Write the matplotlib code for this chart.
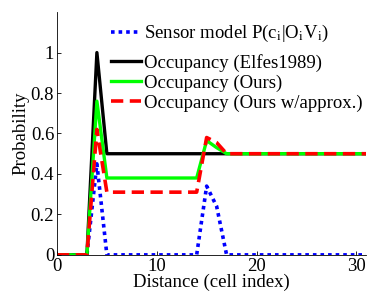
import numpy as np
import matplotlib
matplotlib.use("Agg")
import matplotlib.pyplot as plt

plt.rcParams["font.family"] = ["Liberation Serif", "DejaVu Serif"]
plt.rcParams["mathtext.fontset"] = "stix"

# cell index 0..31
cells = list(range(32))
sensor = [0, 0, 0, 0, 0.45, 0, 0, 0, 0, 0, 0, 0, 0, 0, 0, 0.34, 0.24, 0] + [0] * 14
elfes = [0, 0, 0, 0, 1.0] + [0.5] * 27
ours = [0, 0, 0, 0, 0.76] + [0.38] * 10 + [0.565, 0.53] + [0.5] * 15
approx = [0, 0, 0, 0, 0.62] + [0.31] * 10 + [0.58, 0.555] + [0.5] * 15

labels = [r"Sensor model P(c$_{\rm i}$|O$_{\rm i}$V$_{\rm i}$)",
          "Occupancy (Elfes1989)",
          "Occupancy (Ours)",
          "Occupancy (Ours w/approx.)"]

fig = plt.figure(figsize=(3.7, 2.95), dpi=100)
ax = fig.add_axes([0.154, 0.136, 0.836, 0.823])

l0, = ax.plot(cells, sensor, color="#0000ff", lw=2.6, dashes=(1, 1.1))
l1, = ax.plot(cells, elfes, color="black", lw=2.4)
l2, = ax.plot(cells, ours, color="#00ff00", lw=2.4)
l3, = ax.plot(cells, approx, color="#ff0000", lw=2.6, dashes=(3.4, 1.8))

ax.set_xlim(0, 31)
ax.set_ylim(0, 1.2)
ax.set_xticks([0, 10, 20, 30])
ax.set_yticks([0, 0.2, 0.4, 0.6, 0.8, 1.0])
ax.set_yticklabels(["0", "0.2", "0.4", "0.6", "0.8", "1"])
ax.tick_params(direction="in", labelsize=13.5, length=3, width=0.6, pad=2)
for s in ["top", "right"]:
    ax.spines[s].set_visible(False)
for s in ["left", "bottom"]:
    ax.spines[s].set_linewidth(0.6)
ax.set_xlabel("Distance (cell index)", fontsize=13.5, labelpad=-1)
ax.set_ylabel("Probability", fontsize=13.5, labelpad=1)

leg_kw = dict(frameon=False, fontsize=13.5, handlelength=1.6,
              handletextpad=0.15, labelspacing=0.15, borderaxespad=0)
leg0 = ax.legend([l0], labels[:1], loc="upper left",
                 bbox_to_anchor=(0.15, 0.985), **leg_kw)
ax.add_artist(leg0)
ax.legend([l1, l2, l3], labels[1:], loc="upper left",
          bbox_to_anchor=(0.15, 0.859), **leg_kw)

fig.savefig("out.png", dpi=100)
